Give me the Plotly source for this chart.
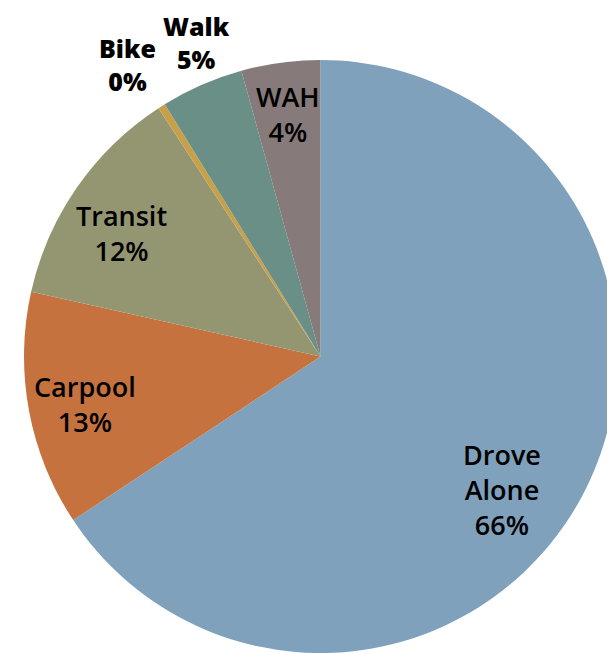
import math
import plotly.graph_objects as go

# commute mode share
modes = ["Drove Alone", "Carpool", "Transit", "Bike", "Walk", "WAH"]
shares = [65.7, 12.8, 12.3, 0.4, 4.5, 4.3]
pct_labels = ["66%", "13%", "12%", "0%", "5%", "4%"]
label_text = ["Drove<br>Alone", "Carpool", "Transit", "Bike", "Walk", "WAH"]

colors = ["#7FA1BB", "#C6723E", "#939670", "#C9A04A", "#6A8F86", "#867A7A"]

fig = go.Figure()

fig.add_trace(go.Pie(
    labels=modes,
    values=shares,
    sort=False,
    direction="clockwise",
    rotation=0,
    marker=dict(colors=colors, line=dict(width=0)),
    textinfo="none",
    hoverinfo="label+percent",
    showlegend=False,
    domain=dict(x=[0, 1], y=[0, 1]),
))

# label placement: (radius fraction, angle tweak in degrees, outside?)
label_pos = [(0.76, 8, False), (0.81, -1, False), (0.79, -3, False),
             (1.18, -1, True), (1.14, 2, True), (0.825, 0, False)]

total = sum(shares)
cum = 0
for i, v in enumerate(shares):
    mid = (cum + v / 2) / total * 360
    cum += v
    r, tweak, outside = label_pos[i]
    a = math.radians(mid + tweak)
    x = 0.5 + 0.5 * r * math.sin(a)
    y = 0.5 + 0.5 * r * math.cos(a)
    fig.add_annotation(
        x=x, y=y, xref="paper", yref="paper",
        text=label_text[i] + "<br>" + pct_labels[i],
        showarrow=False,
        xanchor="center", yanchor="middle",
        font=dict(family="Open Sans", size=25 if outside else 27,
                  color="black", weight=800 if outside else 600),
    )

# page body has an 8px margin, so the figure is a bit smaller than the window
fig.update_layout(
    width=609,
    height=649,
    margin=dict(l=16, r=0, t=52, b=4),
    paper_bgcolor="white",
    plot_bgcolor="white",
)

fig.write_html("out.html")
